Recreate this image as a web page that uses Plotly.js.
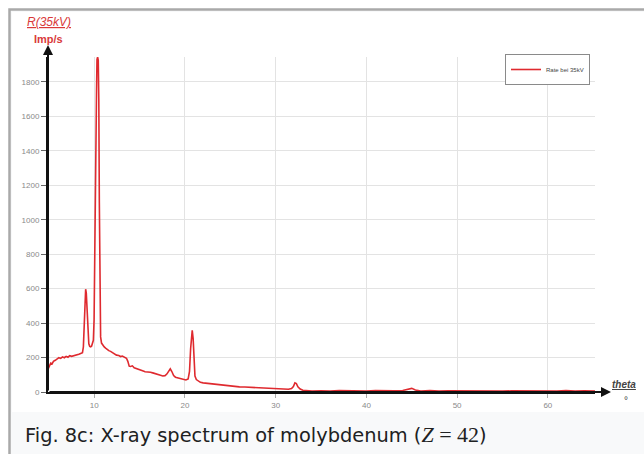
<!DOCTYPE html>
<html>
<head>
<meta charset="utf-8">
<script src="https://cdn.plot.ly/plotly-3.0.1.min.js"></script>
<style>
  html, body { margin: 0; padding: 0; background: #ffffff; }
  #chart { width: 644px; height: 454px; }
</style>
</head>
<body>
<div id="chart"></div>
<script>
// Glancing angle theta in degrees
const theta = [
  4.93, 5.05, 5.2, 5.35, 5.5, 5.7, 5.9, 6.1, 6.3, 6.5, 6.7, 6.9, 7.1, 7.3, 7.5, 7.7, 7.9, 8.1, 8.3, 8.5, 8.7,
  8.8, 8.88, 8.97, 9.05, 9.12, 9.2, 9.3, 9.4, 9.5, 9.6, 9.7, 9.8, 9.9, 9.98, 10.05, 10.1, 10.18, 10.25, 10.3,
  10.37, 10.44, 10.5, 10.56, 10.62, 10.7, 10.8, 10.95, 11.1, 11.25, 11.4, 11.6, 11.8, 12.0, 12.2, 12.45, 12.7,
  12.9, 13.1, 13.3, 13.55, 13.7, 13.85, 14.0, 14.2, 14.4, 14.6, 14.8, 15.0, 15.2, 15.4, 15.6, 15.8, 16.0, 16.2,
  16.45, 16.7, 16.9, 17.1, 17.3, 17.55, 17.8, 18.0, 18.2, 18.38, 18.55, 18.75, 18.95, 19.2, 19.45, 19.8, 20.1,
  20.35, 20.5, 20.62, 20.72, 20.8, 20.9, 21.0, 21.1, 21.25, 21.45, 21.7, 22.0, 22.3, 22.7, 23.1, 23.5, 24.0,
  24.5, 25.0, 25.5, 26.0, 26.6, 27.2, 27.8, 28.4, 29.0, 29.6, 30.2, 30.8, 31.4, 31.75, 31.95, 32.12, 32.28,
  32.45, 32.7, 33.0, 33.4, 34.0, 35.0, 36.0, 37.0, 38.0, 39.0, 40.0, 41.0, 42.0, 43.0, 44.0, 44.6, 45.0, 45.4,
  46.0, 47.0, 48.0, 49.0, 50.0, 51.0, 52.0, 53.0, 54.0, 55.0, 56.0, 57.0, 58.0, 59.0, 60.0, 61.0, 62.0, 63.0,
  64.0, 65.0, 65.6
];
// Count rate R(35kV) in Imp/s
const rate = [
  135, 150, 168, 163, 178, 184, 193, 199, 195, 204, 199, 207, 202, 211, 207, 210, 214, 213, 219, 224, 228,
  262, 360, 500, 597, 575, 480, 340, 280, 265, 262, 266, 278, 300, 420, 900, 1260, 1300, 1750, 1930,
  1945, 1925, 1700, 1100, 520, 320, 284, 270, 262, 255, 246, 240, 236, 229, 222, 214, 212,
  206, 209, 201, 196, 178, 150, 148, 152, 141, 138, 133, 129, 126, 122, 118, 117, 119, 115,
  111, 108, 104, 99, 97, 93, 95, 104, 122, 135, 119, 96, 86, 82, 79, 73, 70,
  76, 120, 250, 330, 358, 310, 170, 92, 72, 63, 56, 53, 51, 48, 46, 45, 42,
  39, 35, 32, 30, 29, 27, 25, 23, 21, 19, 18, 16, 16, 20, 32, 53, 49,
  30, 17, 10, 7, 6, 7, 5, 8, 6, 7, 5, 8, 6, 7, 9, 16, 21, 12,
  6, 8, 5, 7, 6, 8, 5, 7, 6, 5, 7, 6, 8, 5, 7, 6, 8, 5,
  7, 6, 5
];
const seriesName = "Rate bei 35kV";
const xTicks = [10, 20, 30, 40, 50, 60];
const yTicks = [0, 200, 400, 600, 800, 1000, 1200, 1400, 1600, 1800];

// pixel -> paper helpers (plot area: x 48..595, y 57..392)
const L = 48, R = 49, T = 57, B = 62, W = 644, H = 454;
const pw = W - L - R, ph = H - T - B;
const px = x => (x - L) / pw;
const py = y => (H - B - y) / ph;

const red = "#df2a2f";

const trace = {
  x: theta, y: rate, type: "scatter", mode: "lines", name: seriesName,
  line: { color: red, width: 1.6 }, showlegend: true
};

const layout = {
  width: W, height: H,
  margin: { l: L, r: R, t: T, b: B, pad: 0 },
  paper_bgcolor: "#ffffff",
  plot_bgcolor: "rgba(0,0,0,0)",
  font: { family: "Liberation Sans, Arial, sans-serif", size: 8, color: "#888" },
  showlegend: true,
  legend: {
    x: px(590), y: py(54), xanchor: "right", yanchor: "top",
    bgcolor: "#ffffff", bordercolor: "#8a8a8a", borderwidth: 1,
    font: { size: 6, color: "#444" }, itemwidth: 30
  },
  xaxis: {
    range: [4.9, 65.2], tickmode: "array", tickvals: xTicks,
    showgrid: true, gridcolor: "#e3e3e3", gridwidth: 1,
    zeroline: false, showline: true, linecolor: "#111", linewidth: 2,
    ticks: "outside", ticklen: 4, tickcolor: "#aaa", tickwidth: 1,
    tickfont: { size: 8, color: "#8a8a8a" }, fixedrange: true
  },
  yaxis: {
    range: [0, 1945], tickmode: "array", tickvals: yTicks,
    showgrid: true, gridcolor: "#e3e3e3", gridwidth: 1,
    zeroline: false, showline: true, linecolor: "#111", linewidth: 2,
    ticks: "outside", ticklen: 5, tickcolor: "#666", tickwidth: 1,
    tickfont: { size: 8, color: "#8a8a8a" }, fixedrange: true
  },
  shapes: [
    { type: "rect", xref: "paper", yref: "paper", layer: "below",
      x0: px(9.5), x1: px(760), y0: py(9.5), y1: py(560),
      fillcolor: "#f8f9fa", line: { color: "#a9a9a9", width: 2.5 } },
    { type: "rect", xref: "paper", yref: "paper", layer: "below",
      x0: px(12), x1: px(760), y0: py(12), y1: py(412),
      fillcolor: "#ffffff", line: { width: 0 } }
  ],
  annotations: [
    // axis arrows
    { xref: "paper", yref: "paper", x: px(48), y: py(45), ax: 0, ay: 347,
      axref: "pixel", ayref: "pixel", text: "", showarrow: true,
      arrowhead: 2, arrowsize: 1, arrowwidth: 2, arrowcolor: "#111" },
    { xref: "paper", yref: "paper", x: px(611), y: py(392), ax: -563, ay: 0,
      axref: "pixel", ayref: "pixel", text: "", showarrow: true,
      arrowhead: 2, arrowsize: 1, arrowwidth: 2, arrowcolor: "#111" },
    // y axis title
    { xref: "paper", yref: "paper", x: px(48.5), y: py(21.5), xanchor: "center", yanchor: "middle",
      text: "<i><u>R(35kV)</u></i>", showarrow: false,
      font: { size: 12, color: "#d93a3a", family: "Liberation Sans, Arial, sans-serif" } },
    { xref: "paper", yref: "paper", x: px(48), y: py(38.5), xanchor: "center", yanchor: "middle",
      text: "<b>Imp/s</b>", showarrow: false,
      font: { size: 11, color: "#d93a3a", family: "Liberation Sans, Arial, sans-serif" } },
    // x axis title
    { xref: "paper", yref: "paper", x: px(624), y: py(384), xanchor: "center", yanchor: "middle",
      text: "<b><i><u>theta</u></i></b>", showarrow: false,
      font: { size: 10, color: "#444", family: "Liberation Sans, Arial, sans-serif" } },
    { xref: "paper", yref: "paper", x: px(626), y: py(400), xanchor: "center", yanchor: "middle",
      text: "°", showarrow: false,
      font: { size: 10, color: "#444", family: "Liberation Sans, Arial, sans-serif" } },
    // caption
    { xref: "paper", yref: "paper", x: px(23), y: py(435), xanchor: "left", yanchor: "middle",
      text: 'Fig. 8c: X-ray spectrum of molybdenum (<span style="font-family:Liberation Serif;font-size:22px"><i>Z</i> = 42</span>)',
      showarrow: false,
      font: { size: 19.4, color: "#202122", family: "DejaVu Sans, sans-serif" } }
  ]
};

Plotly.newPlot("chart", [trace], layout, { displayModeBar: false, staticPlot: true });
</script>
</body>
</html>
